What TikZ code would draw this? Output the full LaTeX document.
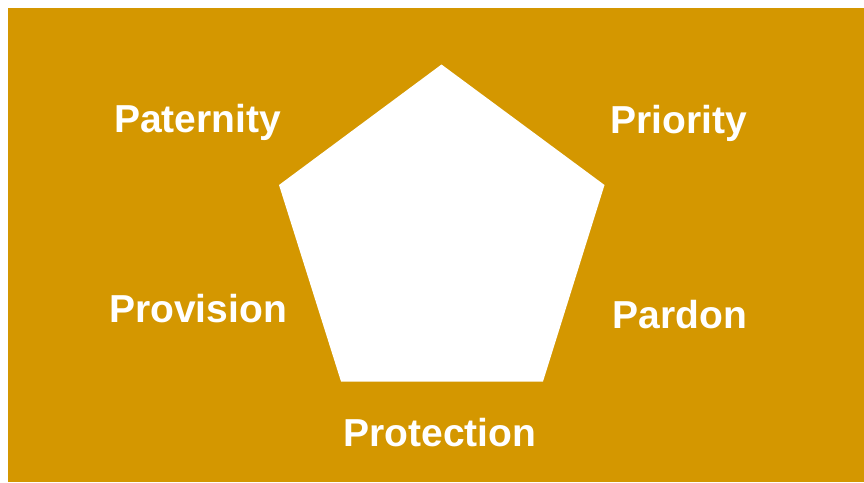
\documentclass[tikz,border=0pt]{standalone}
\usepackage{fontspec}
\setmainfont{Liberation Sans}
\usepackage{tikz}
\definecolor{gold}{RGB}{212,151,0}
\tikzset{word/.style={text=white,font=\fontsize{39}{45}\selectfont\bfseries,inner sep=0pt,anchor=base}}

\begin{document}
\begin{tikzpicture}[x=1pt,y=1pt,yscale=-1,xscale=1]
\useasboundingbox (0,0) rectangle (864,482);

%Shape: Rectangle [id:background]
\fill [gold] (8,8) rectangle (864,482);
%Shape: Pentagon [id:pentagon]
\fill [white] (441.5,64.5) -- (604.5,185) -- (543,381.5) -- (341,381.5) -- (279,185) -- cycle ;

%Text Nodes
\node [word] (paternity) at (197.5,132) {Paternity};
\node [word] (priority) at (679,133) {Priority};
\node [word] (provision) at (198,322) {Provision};
\node [word] (pardon) at (680,328) {Pardon};
\node [word] (protection) at (440,446) {Protection};

\end{tikzpicture}
\end{document}
